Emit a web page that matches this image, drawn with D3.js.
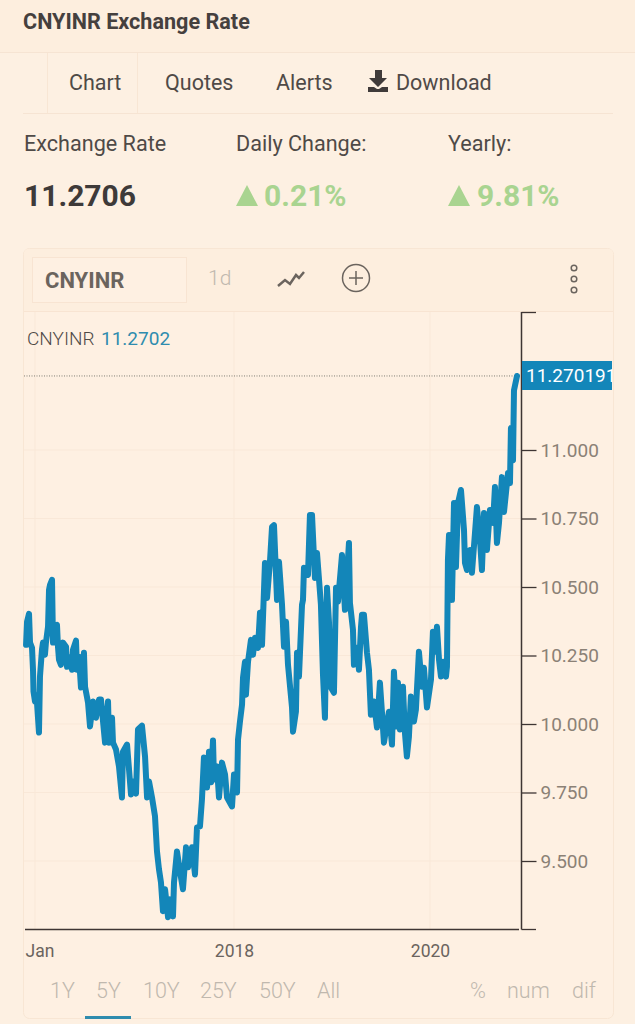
<!DOCTYPE html>
<html lang="en">
<head>
<meta charset="utf-8">
<title>CNYINR Exchange Rate</title>
<script src="https://d3js.org/d3.v7.min.js"></script>
<style>
  html, body { margin:0; padding:0; overflow:hidden; background:#fdf0e2 }
  svg { display:block; font-family:Roboto, sans-serif }
</style>
</head>
<body>
<svg id="page" width="635" height="1024"></svg>
<script>
// decimal years
var years = [
  2015.910,2015.920,2015.940,2015.950,2015.970,2015.980,2015.985,2016.000,2016.020,2016.040,
  2016.050,2016.070,2016.080,2016.100,2016.110,2016.131,2016.141,2016.151,2016.171,2016.181,
  2016.201,2016.221,2016.231,2016.241,2016.261,2016.281,2016.312,2016.322,2016.352,2016.372,
  2016.382,2016.412,2016.422,2016.442,2016.462,2016.492,2016.503,2016.533,2016.553,2016.583,
  2016.613,2016.643,2016.663,2016.704,2016.734,2016.744,2016.774,2016.784,2016.814,2016.844,
  2016.874,2016.884,2016.925,2016.965,2016.985,2017.015,2017.035,2017.075,2017.106,2017.126,
  2017.146,2017.176,2017.206,2017.226,2017.246,2017.266,2017.286,2017.307,2017.337,2017.357,
  2017.387,2017.397,2017.427,2017.457,2017.487,2017.518,2017.538,2017.578,2017.608,2017.628,
  2017.658,2017.678,2017.698,2017.729,2017.749,2017.769,2017.789,2017.799,2017.829,2017.849,
  2017.879,2017.910,2017.930,2017.980,2018.000,2018.031,2018.041,2018.061,2018.082,2018.092,
  2018.112,2018.122,2018.143,2018.173,2018.194,2018.214,2018.245,2018.265,2018.286,2018.316,
  2018.337,2018.367,2018.388,2018.408,2018.439,2018.459,2018.490,2018.510,2018.531,2018.551,
  2018.592,2018.602,2018.632,2018.643,2018.663,2018.694,2018.704,2018.714,2018.755,2018.775,
  2018.796,2018.826,2018.847,2018.887,2018.908,2018.928,2018.949,2018.969,2018.989,2019.020,
  2019.041,2019.061,2019.102,2019.132,2019.173,2019.183,2019.214,2019.224,2019.255,2019.275,
  2019.296,2019.306,2019.326,2019.357,2019.377,2019.397,2019.428,2019.459,2019.489,2019.510,
  2019.530,2019.581,2019.612,2019.632,2019.663,2019.673,2019.693,2019.724,2019.744,2019.764,
  2019.785,2019.805,2019.836,2019.856,2019.887,2019.918,2019.938,2019.969,2020.010,2020.030,
  2020.051,2020.071,2020.092,2020.112,2020.133,2020.163,2020.173,2020.183,2020.194,2020.224,
  2020.245,2020.265,2020.286,2020.316,2020.337,2020.347,2020.357,2020.377,2020.408,2020.428,
  2020.459,2020.479,2020.510,2020.530,2020.551,2020.581,2020.612,2020.643,2020.663,2020.683,
  2020.704,2020.734,2020.755,2020.796,2020.816,2020.826,2020.847,2020.857,2020.888
];
var rates = [
  10.289,10.373,10.402,10.297,10.278,10.198,10.118,10.082,10.078,9.969,
  10.173,10.271,10.297,10.253,10.297,10.355,10.490,10.508,10.526,10.297,
  10.355,10.362,10.282,10.235,10.216,10.297,10.282,10.209,10.242,10.198,
  10.271,10.304,10.198,10.246,10.133,10.260,10.136,10.078,9.991,10.082,
  10.023,10.089,10.089,9.932,10.082,9.932,10.023,9.932,9.907,9.845,
  9.732,9.899,9.925,9.743,9.790,9.746,9.980,9.994,9.881,9.732,
  9.790,9.732,9.663,9.535,9.470,9.422,9.317,9.397,9.295,9.360,
  9.298,9.422,9.535,9.462,9.397,9.550,9.477,9.550,9.451,9.623,
  9.626,9.725,9.878,9.768,9.899,9.787,9.940,9.797,9.845,9.732,
  9.859,9.816,9.732,9.699,9.816,9.750,9.943,10.009,10.071,10.169,
  10.227,10.107,10.227,10.307,10.253,10.315,10.278,10.406,10.289,10.588,
  10.460,10.592,10.719,10.726,10.453,10.592,10.435,10.282,10.373,10.216,
  10.060,9.972,10.045,10.260,10.173,10.435,10.453,10.570,10.544,10.763,
  10.763,10.533,10.624,10.435,10.180,10.023,10.497,10.373,10.133,10.114,
  10.497,10.446,10.617,10.417,10.661,10.442,10.344,10.216,10.278,10.198,
  10.355,10.399,10.399,10.260,10.198,10.034,10.082,9.987,10.151,10.042,
  9.932,10.045,9.925,10.191,9.991,10.151,9.980,10.136,9.969,9.881,
  9.954,10.100,10.009,10.052,10.264,10.136,10.205,10.060,10.162,10.337,
  10.264,10.355,10.235,10.173,10.227,10.173,10.209,10.599,10.690,10.453,
  10.807,10.573,10.807,10.854,10.756,10.708,10.588,10.562,10.635,10.552,
  10.697,10.792,10.672,10.562,10.770,10.635,10.781,10.734,10.865,10.661,
  10.734,10.901,10.774,10.916,10.879,11.080,10.963,11.218,11.2702
];
var yTicks = [9.5, 9.75, 10, 10.25, 10.5, 10.75, 11];
var xTicks = [2016, 2018, 2020];
var xTickLabels = ["Jan", "2018", "2020"];
var lastRate = 11.2702;
var ranges = ["1Y", "5Y", "10Y", "25Y", "50Y", "All"];
var modes = ["%", "num", "dif"];

var blue = "#1386b9", border = "#f8e6d4", dark = "#3e3a39", grey = "#c0b8ae", green = "#a9d490";
var svg = d3.select("#page");

function label(x, y, s, size, fill, weight) {
  return svg.append("text").attr("x", x).attr("y", y).text(s)
    .attr("font-size", size).attr("fill", fill).attr("font-weight", weight || 400);
}
function hline(x1, x2, y, c, w) {
  svg.append("line").attr("x1", x1).attr("x2", x2).attr("y1", y).attr("y2", y)
    .attr("stroke", c).attr("stroke-width", w || 1);
}
function vline(x, y1, y2, c, w) {
  svg.append("line").attr("x1", x).attr("x2", x).attr("y1", y1).attr("y2", y2)
    .attr("stroke", c).attr("stroke-width", w || 1);
}

// page header
svg.append("rect").attr("width", 635).attr("height", 52).attr("fill", "#fdeede");
hline(0, 635, 52.5, "#f6e4d3");
label(23, 29, "CNYINR Exchange Rate", 21.6, "#45403e", 700);

vline(47.5, 53, 113, border);
vline(137.5, 53, 113, border);
hline(23, 613, 113.5, "#f6e4d3");
label(69, 90, "Chart", 21.5, "#4f4a47");
label(165, 90, "Quotes", 21.5, "#4f4a47");
label(276, 90, "Alerts", 21.5, "#4f4a47");
label(396, 90, "Download", 21.5, "#4f4a47");
svg.append("path").attr("fill", "#403b3a")
  .attr("d", "M375,70h7v8h5l-9,9l-9,-9h6z M368,87h6l3,2h2l3,-2h6v5h-20z");

label(24, 151, "Exchange Rate", 21.6, "#4f4a47");
label(236, 151, "Daily Change:", 21.6, "#4f4a47");
label(448, 151, "Yearly:", 21.6, "#4f4a47");
label(24, 206, "11.2706", 30, dark, 700);
label(264, 206, "0.21%", 30, green, 700);
label(477, 206, "9.81%", 30, green, 700);
svg.append("path").attr("fill", green).attr("d", "M236,206l11,-21l11,21z M448,206l11,-21l11,21z");

// chart card
svg.append("rect").attr("x", 23.5).attr("y", 248.5).attr("width", 590).attr("height", 770)
  .attr("rx", 6).attr("fill", "#fef0e2").attr("stroke", border);
svg.append("path").attr("fill", "#fdeede").attr("d", "M24,311V254q0,-5 5,-5H608q5,0 5,5V311z");
hline(24, 613, 311.5, "#f8e4d2");
svg.append("rect").attr("x", 32.5).attr("y", 257.5).attr("width", 154).attr("height", 45)
  .attr("fill", "#fef0e2").attr("stroke", "#f8e4d2");
label(45, 288, "CNYINR", 22, "#6b645e", 700);
label(208, 285, "1d", 21, grey, 300);
svg.append("path").attr("fill", "none").attr("stroke", "#6b645e").attr("stroke-width", 2.5)
  .attr("d", "M278,286l7,-6l5,4l6,-9l3,3l5,-6");
svg.append("circle").attr("cx", 356).attr("cy", 278).attr("r", 13.5)
  .attr("fill", "none").attr("stroke", "#6b645e").attr("stroke-width", 1.5);
svg.append("path").attr("stroke", "#6b645e").attr("stroke-width", 1.5).attr("d", "M356,271v14M349,278h14");
[268, 279, 290].forEach(function(cy) {
  svg.append("circle").attr("cx", 574).attr("cy", cy).attr("r", 2.8)
    .attr("fill", "none").attr("stroke", "#6b645e").attr("stroke-width", 1.5);
});

// scales
var x = d3.scaleLinear().domain([2016, 2018, 2020]).range([35, 234, 430]);
var y = d3.scaleLinear().domain([9.5, 11]).range([861, 450]);
var top_ = 312, bottom = 929.5, axisX = 521.5;

// grid
svg.append("g").selectAll("line").data(yTicks).enter().append("line")
  .attr("x1", 24).attr("x2", axisX)
  .attr("y1", function(d) { return y(d); }).attr("y2", function(d) { return y(d); })
  .attr("stroke", "#f9e8d8");
svg.append("g").selectAll("line").data(xTicks).enter().append("line")
  .attr("x1", function(d) { return x(d); }).attr("x2", function(d) { return x(d); })
  .attr("y1", top_).attr("y2", bottom)
  .attr("stroke", "#f9e8d8");

// last value guide
svg.append("line").attr("x1", 24).attr("x2", axisX)
  .attr("y1", y(lastRate)).attr("y2", y(lastRate))
  .attr("stroke", "#7f7d75").attr("stroke-dasharray", "1,1.5");

// series
var line = d3.line()
  .x(function(d, i) { return x(years[i]); })
  .y(function(d) { return y(d); });
svg.append("path").datum(rates).attr("d", line)
  .attr("fill", "none").attr("stroke", blue).attr("stroke-width", 6)
  .attr("stroke-linejoin", "round").attr("stroke-linecap", "round");

// y axis
var yAxis = d3.axisRight(y).tickValues(yTicks).tickSize(15).tickPadding(4)
  .tickFormat(d3.format(".3f"));
var gy = svg.append("g").attr("transform", "translate(" + axisX + ",0)").call(yAxis);
gy.select(".domain").remove();
gy.selectAll("line").attr("stroke", "#3e3533").attr("stroke-width", 1.3);
gy.selectAll("text").attr("font-size", 19).attr("fill", "#8b8176").attr("font-family", "Roboto, sans-serif");
vline(axisX, top_, bottom, "#3e3533", 1.5);
hline(axisX, 536, top_ + 0.5, "#3e3533", 1.3);
hline(axisX, 536, bottom, "#3e3533", 1.3);

// x axis
var xAxis = d3.axisBottom(x).tickValues(xTicks).tickSize(0).tickPadding(15)
  .tickFormat(function(d, i) { return xTickLabels[i]; });
var gx = svg.append("g").attr("transform", "translate(0," + bottom + ")").call(xAxis);
gx.select(".domain").remove();
gx.selectAll("text").attr("font-size", 17.5).attr("fill", "#6b645e").attr("font-family", "Roboto, sans-serif");
gx.select("text").attr("text-anchor", "start").attr("x", -10);
hline(25, 519, bottom, "#3e3533", 1.3);

// legend
label(27, 345, "CNYINR", 19, "#4f4a47", 300);
label(101, 345, lastRate.toFixed(4), 19, "#2f8cae");

// price tag, clipped at the card edge
svg.append("clipPath").attr("id", "tag").append("rect")
  .attr("x", 522).attr("y", 361).attr("width", 90).attr("height", 29);
svg.append("rect").attr("x", 522).attr("y", 361).attr("width", 90).attr("height", 29).attr("fill", blue);
label(526, 382, "11.270191", 19, "#fff").attr("clip-path", "url(#tag)");

// range buttons
var rangeX = [50, 96, 143, 200, 259, 317];
var modeX = [470, 507, 572];
ranges.forEach(function(r, i) { label(rangeX[i], 998, r, 21.5, grey, 300); });
modes.forEach(function(m, i) { label(modeX[i], 998, m, 21.5, grey, 300); });
svg.append("rect").attr("x", 85).attr("y", 1016).attr("width", 46).attr("height", 3).attr("fill", "#2f8cae");
</script>
</body>
</html>
